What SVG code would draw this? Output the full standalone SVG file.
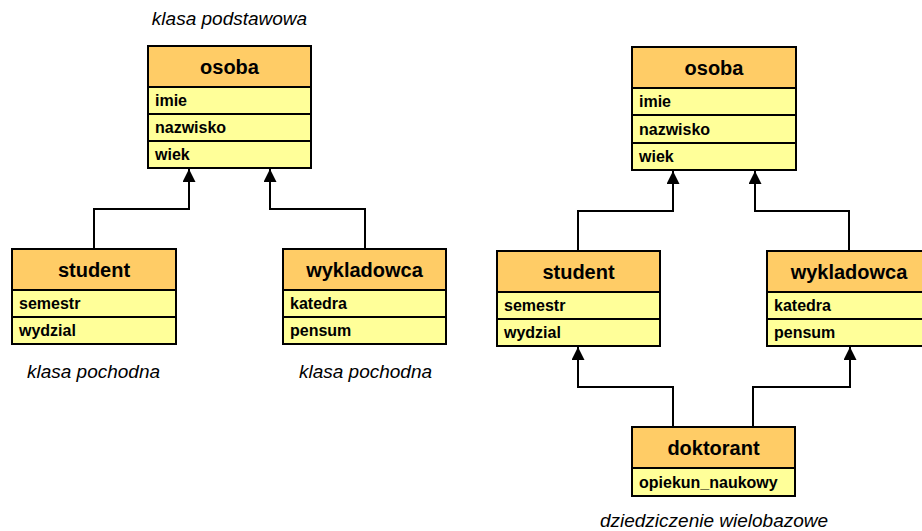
<svg xmlns="http://www.w3.org/2000/svg" width="922" height="531" viewBox="0 0 922 531">
<style>
.hd{fill:#FFCC66;stroke:#000;stroke-width:2}
.rw{fill:#FFFF99;stroke:#000;stroke-width:2}
.ht{font-family:"Liberation Sans",Arial,sans-serif;font-weight:bold;font-size:20px;text-anchor:middle;fill:#000}
.rt{font-family:"Liberation Sans",Arial,sans-serif;font-weight:bold;font-size:16px;fill:#000}
.lb{font-family:"Liberation Sans",Arial,sans-serif;font-style:italic;font-size:19px;text-anchor:middle;fill:#000}
.cn{fill:none;stroke:#000;stroke-width:2;marker-end:url(#arr)}
</style>
<defs>
<marker id="arr" markerWidth="13" markerHeight="13" refX="13" refY="6.5" orient="auto" markerUnits="userSpaceOnUse">
<path d="M0,0 L13,6.5 L0,13 z" fill="#000"/>
</marker>
</defs>
<rect width="922" height="531" fill="#fff"/>
<g id="connectors">
<path class="cn" d="M94,249 V209 H189 V169"/>
<path class="cn" d="M365,249 V209 H270 V169"/>
<path class="cn" d="M578,251 V211 H673 V171"/>
<path class="cn" d="M849,251 V211 H755 V171"/>
<path class="cn" d="M673,427 V387 H578 V347"/>
<path class="cn" d="M753,427 V387 H850 V347"/>
</g>
<g id="osoba1">
<rect class="hd" x="148" y="46" width="163" height="41"/>
<rect class="rw" x="148" y="87" width="163" height="27"/>
<rect class="rw" x="148" y="114" width="163" height="27"/>
<rect class="rw" x="148" y="141" width="163" height="27"/>
<text class="ht" x="229.5" y="73.5">osoba</text>
<text class="rt" x="155" y="106">imie</text>
<text class="rt" x="155" y="133">nazwisko</text>
<text class="rt" x="155" y="160">wiek</text>
</g>
<g id="student1">
<rect class="hd" x="12" y="249" width="164" height="41"/>
<rect class="rw" x="12" y="290" width="164" height="27"/>
<rect class="rw" x="12" y="317" width="164" height="27"/>
<text class="ht" x="94" y="276.5">student</text>
<text class="rt" x="19" y="309">semestr</text>
<text class="rt" x="19" y="336">wydzial</text>
</g>
<g id="wykladowca1">
<rect class="hd" x="283" y="249" width="163" height="41"/>
<rect class="rw" x="283" y="290" width="163" height="27"/>
<rect class="rw" x="283" y="317" width="163" height="27"/>
<text class="ht" x="364.5" y="276.5">wykladowca</text>
<text class="rt" x="290" y="309">katedra</text>
<text class="rt" x="290" y="336">pensum</text>
</g>
<g id="osoba2">
<rect class="hd" x="632" y="47" width="164" height="41"/>
<rect class="rw" x="632" y="88" width="164" height="27"/>
<rect class="rw" x="632" y="115" width="164" height="28"/>
<rect class="rw" x="632" y="143" width="164" height="27"/>
<text class="ht" x="714" y="74.5">osoba</text>
<text class="rt" x="639" y="107">imie</text>
<text class="rt" x="639" y="134.5">nazwisko</text>
<text class="rt" x="639" y="162">wiek</text>
</g>
<g id="student2">
<rect class="hd" x="497" y="251" width="163" height="41"/>
<rect class="rw" x="497" y="292" width="163" height="27"/>
<rect class="rw" x="497" y="319" width="163" height="27"/>
<text class="ht" x="578.5" y="278.5">student</text>
<text class="rt" x="504" y="311">semestr</text>
<text class="rt" x="504" y="338">wydzial</text>
</g>
<g id="wykladowca2">
<rect class="hd" x="767" y="251" width="164" height="41"/>
<rect class="rw" x="767" y="292" width="164" height="27"/>
<rect class="rw" x="767" y="319" width="164" height="27"/>
<text class="ht" x="849" y="278.5">wykladowca</text>
<text class="rt" x="774" y="311">katedra</text>
<text class="rt" x="774" y="338">pensum</text>
</g>
<g id="doktorant">
<rect class="hd" x="632" y="427" width="163" height="41"/>
<rect class="rw" x="632" y="468" width="163" height="28"/>
<text class="ht" x="713.5" y="454.5">doktorant</text>
<text class="rt" x="639" y="488">opiekun_naukowy</text>
</g>
<g id="labels">
<text class="lb" x="229.5" y="25">klasa podstawowa</text>
<text class="lb" x="93.5" y="378">klasa pochodna</text>
<text class="lb" x="365.5" y="378">klasa pochodna</text>
<text class="lb" x="714" y="527">dziedziczenie wielobazowe</text>
</g>
</svg>
